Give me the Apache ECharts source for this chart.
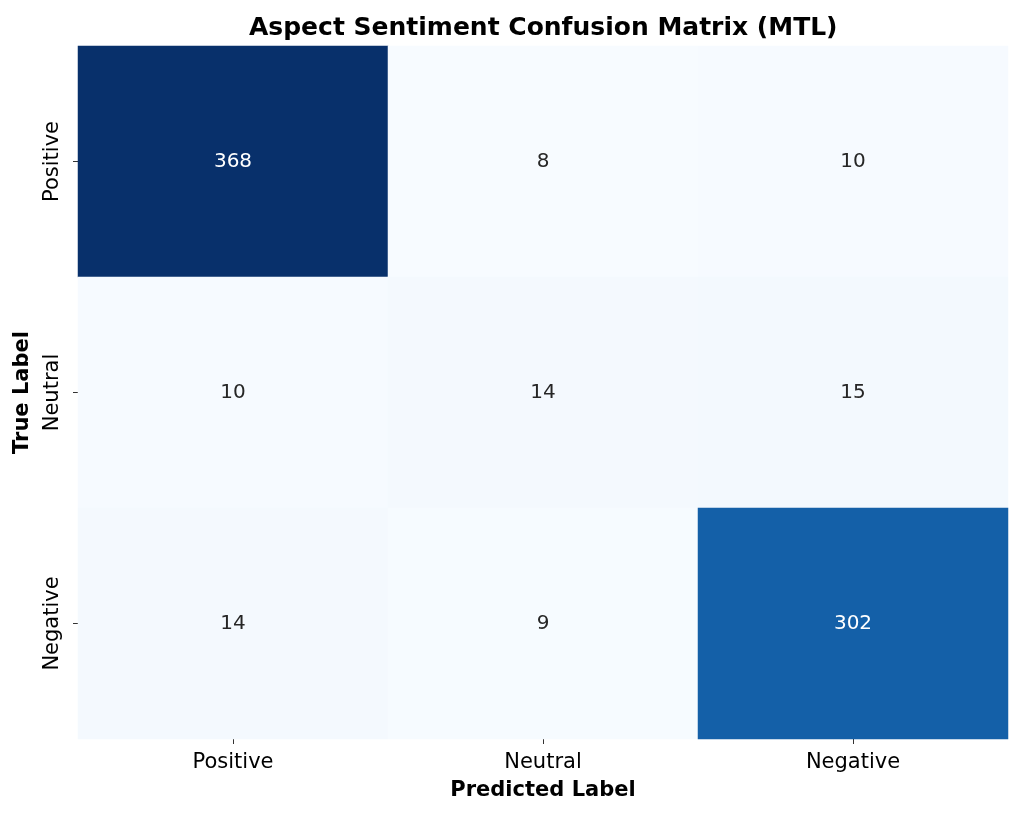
<!DOCTYPE html>
<html lang="en">
<head>
    <meta charset="UTF-8">
    <title>Aspect Sentiment Confusion Matrix (MTL)</title>
    <script src="https://cdn.jsdelivr.net/npm/echarts@6/dist/echarts.min.js"></script>
    <style>
        body { margin: 0; background: #fff; }
        #main { width: 1022px; height: 817px; }
    </style>
</head>
<body>
    <div id="main"></div>
    <script type="text/javascript">
        // 类别 (行 = 真实, 列 = 预测)
        var predLabels = ['Positive', 'Neutral', 'Negative'];
        var trueLabels = ['Positive', 'Neutral', 'Negative'];
        // 每行的计数
        var rowPositive = [368, 8, 10];
        var rowNeutral = [10, 14, 15];
        var rowNegative = [14, 9, 302];
        var matrix = [rowPositive, rowNeutral, rowNegative];

        // Blues 色带
        var blues = ['#f7fbff', '#deebf7', '#c6dbef', '#9ecae1', '#6baed6', '#4292c6', '#2171b5', '#08519c', '#08306b'];

        var data = [];
        var vmin = Infinity, vmax = -Infinity;
        matrix.forEach(function (row, i) {
            row.forEach(function (v, j) {
                data.push([j, i, v]);
                vmin = Math.min(vmin, v);
                vmax = Math.max(vmax, v);
            });
        });

        var font = 'DejaVu Sans';
        var option = {
            animation: false,
            textStyle: { fontFamily: font },
            title: {
                text: 'Aspect Sentiment Confusion Matrix (MTL)',
                left: 244,
                top: 11,
                textStyle: { fontFamily: font, fontSize: 25, fontWeight: 'bold', color: '#000' }
            },
            grid: { left: 78, right: 14, top: 46, bottom: 78 },
            xAxis: {
                type: 'category',
                data: predLabels,
                name: 'Predicted Label',
                nameLocation: 'middle',
                nameGap: 41,
                nameTextStyle: { fontFamily: font, fontSize: 21, fontWeight: 'bold', color: '#000' },
                axisLine: { show: false },
                axisTick: { show: true, alignWithLabel: true, length: 5, lineStyle: { color: '#333' } },
                axisLabel: { fontFamily: font, fontSize: 21, color: '#000', margin: 13 },
                splitLine: { show: false }
            },
            yAxis: {
                type: 'category',
                data: trueLabels,
                inverse: true,
                name: 'True Label',
                nameLocation: 'middle',
                nameGap: 45,
                nameRotate: 90,
                nameTextStyle: { fontFamily: font, fontSize: 21, fontWeight: 'bold', color: '#000' },
                axisLine: { show: false },
                axisTick: { show: true, alignWithLabel: true, length: 5, lineStyle: { color: '#333' } },
                axisLabel: { fontFamily: font, fontSize: 21, color: '#000', rotate: 90, margin: 15 },
                splitLine: { show: false }
            },
            visualMap: {
                show: false,
                min: vmin,
                max: vmax,
                calculable: false,
                inRange: { color: blues }
            },
            series: [{
                type: 'heatmap',
                itemStyle: { borderWidth: 0 },
                label: {
                    show: true,
                    fontFamily: font,
                    fontSize: 20,
                    formatter: function (p) { return p.value[2]; }
                },
                emphasis: { disabled: true },
                // 深色格子用白字
                data: data.map(function (d) {
                    var t = (d[2] - vmin) / (vmax - vmin);
                    return { value: d, label: { color: t > 0.5 ? '#ffffff' : '#262626' } };
                })
            }]
        };

        var myChart = echarts.init(document.getElementById('main'));
        myChart.setOption(option);
    </script>
</body>
</html>
